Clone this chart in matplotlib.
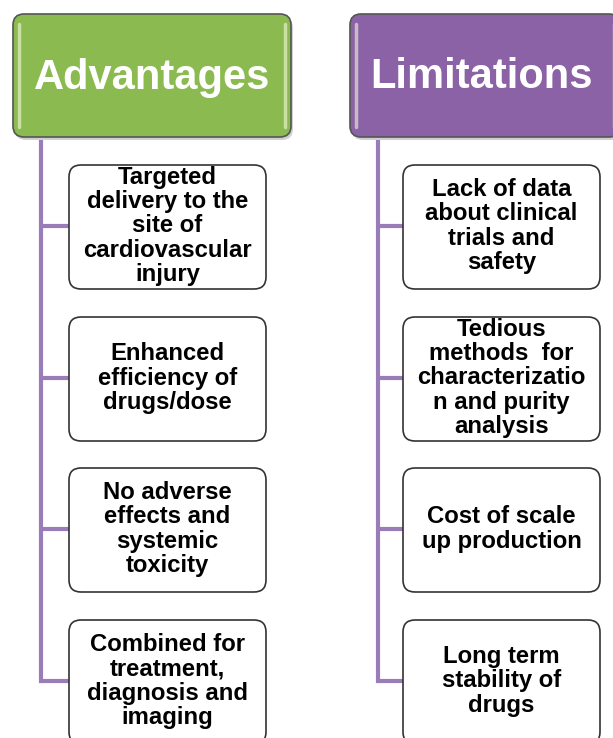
import matplotlib.pyplot as plt
from matplotlib.patches import FancyBboxPatch

# Diagram content
headers = ["Advantages", "Limitations"]
header_colors = ["#8bbb50", "#8b62a6"]
advantages = [
    "Targeted\ndelivery to the\nsite of\ncardiovascular\ninjury",
    "Enhanced\nefficiency of\ndrugs/dose",
    "No adverse\neffects and\nsystemic\ntoxicity",
    "Combined for\ntreatment,\ndiagnosis and\nimaging",
]
limitations = [
    "Lack of data\nabout clinical\ntrials and\nsafety",
    "Tedious\nmethods  for\ncharacterizatio\nn and purity\nanalysis",
    "Cost of scale\nup production",
    "Long term\nstability of\ndrugs",
]

W, H = 613, 738
fig = plt.figure(figsize=(W / 100, H / 100), dpi=100)
ax = fig.add_axes([0, 0, 1, 1])
ax.set_xlim(0, W)
ax.set_ylim(H, 0)
ax.axis("off")

font = "Liberation Sans"
line_color = "#9a7cb8"

columns = [
    # header x0, x1, trunk x, box x0, box x1
    (13, 291, 41, 69, 266, advantages),
    (350, 620, 378, 403, 600, limitations),
]
box_tops = [165, 317, 468, 620]
box_h = 124
head_top, head_bot = 14, 137

for (hx0, hx1, tx, bx0, bx1, items), title, col in zip(columns, headers, header_colors):
    # header box with a soft shadow
    sh = FancyBboxPatch((hx0 + 2, head_top + 3), hx1 - hx0, head_bot - head_top,
                        boxstyle="round,pad=0,rounding_size=11",
                        fc="#d0d0d0", ec="none", zorder=1)
    ax.add_patch(sh)
    hb = FancyBboxPatch((hx0, head_top), hx1 - hx0, head_bot - head_top,
                        boxstyle="round,pad=0,rounding_size=11",
                        fc=col, ec="#555555", lw=1.2, zorder=2)
    ax.add_patch(hb)
    # glossy highlights on the sides
    for x in (hx0 + 6, hx1 - 6):
        ax.plot([x, x], [head_top + 10, head_bot - 10], color="#f4f8dc",
                alpha=0.6, lw=2.5, solid_capstyle="round", zorder=3)
    ax.text((hx0 + min(hx1, W)) / 2, (head_top + head_bot) / 2 + 2, title,
            ha="center", va="center", color="white", fontsize=30,
            fontweight="bold", family=font, zorder=4)

    # trunk line
    last_mid = box_tops[-1] + 61
    ax.plot([tx, tx], [head_bot, last_mid], color=line_color, lw=3,
            solid_capstyle="projecting", zorder=0)

    for top, txt in zip(box_tops, items):
        mid = top + 61
        ax.plot([tx, bx0], [mid, mid], color=line_color, lw=3,
                solid_capstyle="butt", zorder=0)
        bb = FancyBboxPatch((bx0, top), bx1 - bx0, box_h,
                            boxstyle="round,pad=0,rounding_size=12",
                            fc="white", ec="#333333", lw=1.2, zorder=2)
        ax.add_patch(bb)
        ax.text((bx0 + bx1) / 2, mid, txt, ha="center", va="center",
                fontsize=17.2, fontweight="bold", family=font,
                linespacing=1.06, zorder=3)

fig.savefig("out.png", dpi=100)
